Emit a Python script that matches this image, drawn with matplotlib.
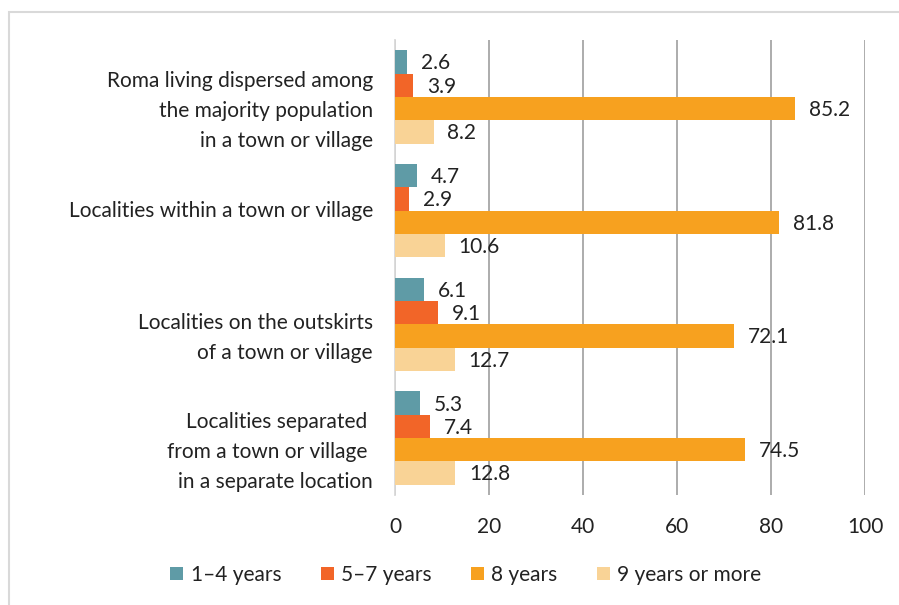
import matplotlib.pyplot as plt
import numpy as np
from matplotlib.patches import Rectangle

plt.rcParams['font.family'] = ['Lato', 'DejaVu Sans']

categories = [
    "Roma living dispersed among\nthe majority population\nin a town or village",
    "Localities within a town or village",
    "Localities on the outskirts\nof a town or village",
    "Localities separated \nfrom a town or village \nin a separate location",
]
series = ["1\u20134 years", "5\u20137 years", "8 years", "9 years or more"]
values = {
    "1\u20134 years": [2.6, 4.7, 6.1, 5.3],
    "5\u20137 years": [3.9, 2.9, 9.1, 7.4],
    "8 years": [85.2, 81.8, 72.1, 74.5],
    "9 years or more": [8.2, 10.6, 12.7, 12.8],
}
colors = ["#5F9BA6", "#F26528", "#F7A11F", "#F9D396"]
xticks = [0, 20, 40, 60, 80, 100]

FS = 15
TXT = "#222222"

fig = plt.figure(figsize=(8.99, 6.05), dpi=100)
ax = fig.add_axes([395 / 899, 1 - 495 / 605, 470 / 899, 455 / 605])

# outer chart border (top and left only visible)
fig.patches.append(Rectangle((9 / 899, -0.1), 1.1, 1 - 12 / 605 + 0.1,
                             transform=fig.transFigure, fill=False,
                             edgecolor="#d9d9d9", linewidth=1.5))

y = np.arange(len(categories))
h = 0.205
offsets = (np.arange(len(series)) - 1.5) * h
for k, (name, col) in enumerate(zip(series, colors)):
    vals = values[name]
    bars = ax.barh(y + offsets[k], vals, height=h, color=col, label=name,
                   zorder=3)
    for b, v in zip(bars, vals):
        ax.annotate(f"{v}", (v, b.get_y() + h / 2), xytext=(10, -1),
                    textcoords="offset points", ha="left", va="center",
                    fontsize=FS, color=TXT, zorder=4)

# category labels (multi-line ones sit a bit lower, as in the original)
for yi, lab in zip(y, categories):
    dy = 0 if "\n" not in lab else -10
    ax.annotate(lab, xy=(0, yi), xycoords=("axes fraction", "data"),
                xytext=(-16, dy), textcoords="offset points",
                ha="right", va="center", multialignment="right",
                fontsize=FS, color=TXT, linespacing=1.62)

ax.set_xlim(0, 100)
ax.set_ylim(3.5, -0.5)
ax.set_xticks(xticks)
ax.set_yticks([])
ax.tick_params(axis="both", length=0, labelsize=FS, colors=TXT)
ax.tick_params(axis="x", pad=16)
ax.xaxis.grid(True, color="#a6a6a6", linewidth=1.3, zorder=0)
for s in ["top", "right", "bottom"]:
    ax.spines[s].set_visible(False)
ax.spines["left"].set_color("#d9d9d9")
ax.spines["left"].set_linewidth(1.3)

fig.legend(loc="center", bbox_to_anchor=(466 / 899, 1 - 575 / 605), ncol=4,
           frameon=False, fontsize=FS, handlelength=0.62, handleheight=0.62,
           handletextpad=0.35, columnspacing=1.9, labelcolor=TXT)

fig.savefig("out.png", dpi=100)
